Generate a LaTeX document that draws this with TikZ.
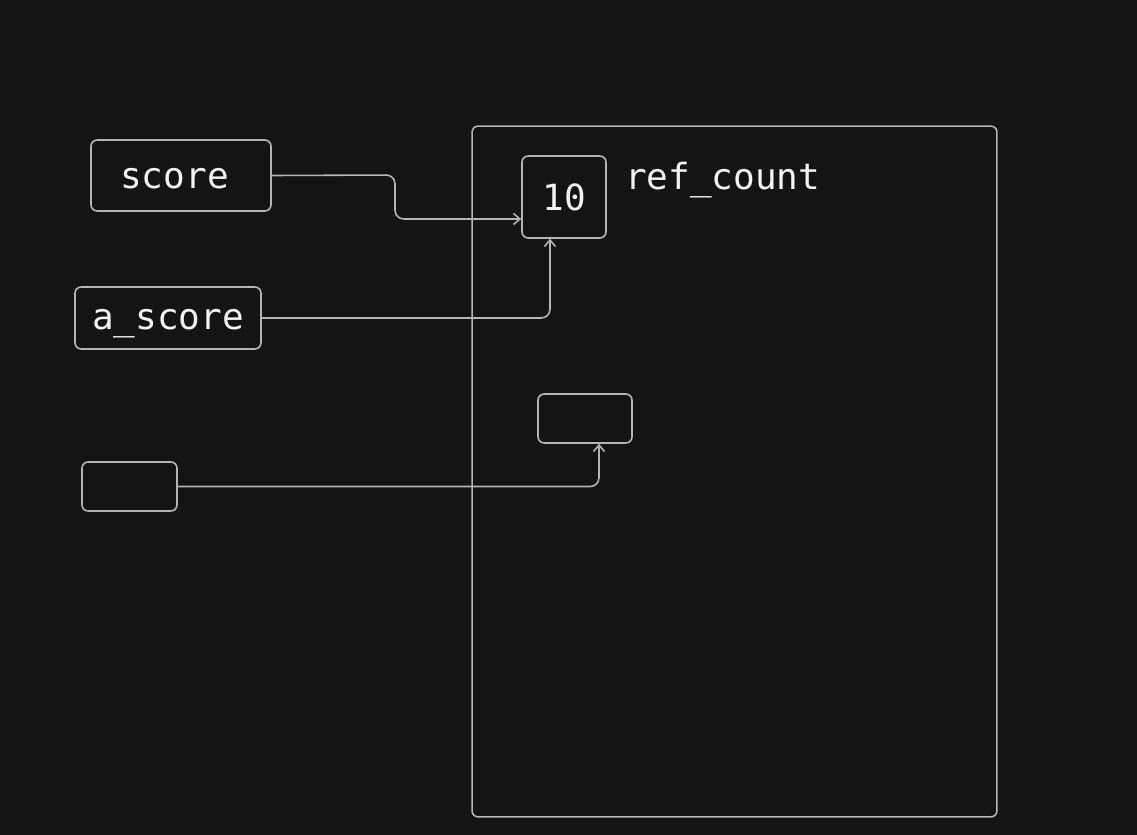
\documentclass[tikz,border=0pt]{standalone}
\usepackage{xcolor}
\usepackage{fontspec}
\setmonofont{DejaVu Sans Mono}
\usepackage{tikz}
\usetikzlibrary{arrows.meta, positioning}

\definecolor{canvas}{HTML}{141414}
\definecolor{edge}{HTML}{B4B4B4}
\definecolor{ink}{HTML}{F2F2F2}

\begin{document}
\begin{tikzpicture}[
    x=0.02cm, y=-0.02cm,
    node distance=0.36cm,
    >={Straight Barb[length=1.3mm, width=2.2mm]},
    every node/.style={font=\ttfamily\fontsize{20.5}{24}\selectfont, text=ink},
    cell/.style={rectangle, draw=edge, line width=0.9pt, rounded corners=3.5pt, inner sep=0pt, align=center},
    link/.style={->, draw=edge, line width=0.9pt, rounded corners=5pt}
]

\fill[canvas] (0,0) rectangle (1137,835);
\useasboundingbox (0,0) rectangle (1137,835);

% heap region
\node[cell, minimum width=10.5cm, minimum height=13.82cm] (heap) at (734.5,471.5) {};

\node[cell, minimum width=3.6cm, minimum height=1.42cm, text height=0.6cm, text depth=0.06cm] (score) at (181,175.5) {score\hspace{0.26cm}};
\node[cell, minimum width=3.72cm, minimum height=1.24cm, text height=0.5cm, text depth=0.06cm] (ascore) at (168,318) {a\_score};
\node[cell, minimum width=1.9cm, minimum height=0.98cm] (blank) at (129.5,486.5) {};

\node[cell, minimum width=1.68cm, minimum height=1.64cm] (ten) at (564,197) {10};
\node[right=of ten.north east, anchor=north west, yshift=-0.14cm, inner sep=0pt] (refcount) {ref\_count};
\node[cell, minimum width=1.88cm, minimum height=0.98cm] (empty) at (585,418.5) {};

\draw[link] (score.east) -- (395,175) |- ([yshift=-0.44cm]ten.west);
\draw[link] (ascore.east) -| ([xshift=-0.28cm]ten.south);
\draw[link] (blank.east) -| ([xshift=0.28cm]empty.south);

\end{tikzpicture}
\end{document}
